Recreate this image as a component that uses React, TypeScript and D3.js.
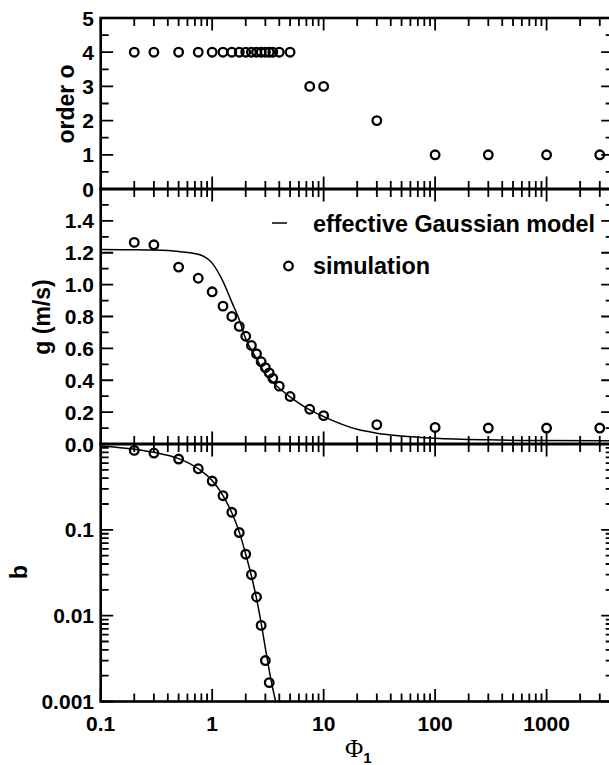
import React from 'react';
import * as d3 from 'd3';

// simulation points (Phi_1)
const phiSim = [0.2, 0.3, 0.5, 0.75, 1, 1.25, 1.5, 1.75, 2, 2.25, 2.5, 2.75, 3, 3.25, 3.5, 4, 5, 7.5, 10, 30, 100, 300, 1000, 3000];
const orderSim = [4, 4, 4, 4, 4, 4, 4, 4, 4, 4, 4, 4, 4, 4, 4, 4, 4, 3, 3, 2, 1, 1, 1, 1];
const gSim = [1.265, 1.25, 1.11, 1.04, 0.955, 0.865, 0.8, 0.738, 0.676, 0.618, 0.566, 0.516, 0.479, 0.446, 0.412, 0.363, 0.298, 0.218, 0.178, 0.121, 0.104, 0.1, 0.1, 0.1];

const phiB = [0.2, 0.3, 0.5, 0.75, 1, 1.25, 1.5, 1.75, 2, 2.25, 2.5, 2.75, 3, 3.25];
const bSim = [0.842, 0.785, 0.668, 0.515, 0.37, 0.25, 0.16, 0.093, 0.052, 0.03, 0.0165, 0.0077, 0.003, 0.00166];

// effective Gaussian model curves
const phiModelG = [0.1, 0.2, 0.3, 0.5, 0.75, 1, 1.25, 1.5, 1.75, 2, 2.5, 3, 4, 5, 7.5, 10, 20, 30, 50, 100, 300, 1000, 4000];
const gModel = [1.22, 1.219, 1.217, 1.208, 1.19, 1.135, 1.02, 0.89, 0.78, 0.66, 0.535, 0.44, 0.35, 0.296, 0.214, 0.172, 0.092, 0.068, 0.05, 0.036, 0.026, 0.022, 0.02];

const phiModelB = [0.1, 0.2, 0.3, 0.5, 0.75, 1, 1.25, 1.5, 1.75, 2, 2.25, 2.5, 2.75, 3, 3.25, 3.5, 3.75];
const bModel = [0.95, 0.87, 0.8, 0.675, 0.515, 0.375, 0.25, 0.158, 0.094, 0.052, 0.029, 0.0158, 0.0082, 0.0042, 0.0023, 0.0014, 0.00095];

const xTickLabels = ['0.1', '1', '10', '100', '1000'];
const orderTickLabels = ['0', '1', '2', '3', '4', '5'];
const gTickLabels = ['0.0', '0.2', '0.4', '0.6', '0.8', '1.0', '1.2', '1.4'];
const bTickLabels = ['0.001', '0.01', '0.1'];

const W = 609;
const H = 765;
const LEFT = 100.7;
const RIGHT = 613.7;
const MAJ = 12.5;
const MIN = 8;
const SANS = '"Liberation Sans", Arial, Helvetica, sans-serif';

const x = d3.scaleLog().domain([0.1, 4000]).range([LEFT, RIGHT]);
const yOrder = d3.scaleLinear().domain([0, 5]).range([189, 18]);
const yG = d3.scaleLinear().domain([0, 1.6]).range([444, 189]);
const yB = d3.scaleLog().domain([0.001, 1]).range([701.5, 444]);

const isDecade = (v) => Math.abs(Math.log10(v) - Math.round(Math.log10(v))) < 1e-6;

function frameTicks(y, yTicks) {
  const [bot, top] = y.range();
  let d = '';
  x.ticks().forEach(v => {
    const len = isDecade(v) ? MAJ : MIN;
    const px = x(v);
    d += `M${px},${top}v${len}M${px},${bot}v${-len}`;
  });
  yTicks.forEach(([v, major]) => {
    const len = major ? MAJ : MIN;
    const py = y(v);
    d += `M${LEFT},${py}h${len}M${RIGHT},${py}h${-len}`;
  });
  return d;
}

export default function App() {
  const orderTicks = d3.range(0, 11).map(i => [i / 2, i % 2 === 0]);
  const gTicks = d3.range(0, 17).map(i => [i / 10, i % 2 === 0]);
  const bTicks = yB.ticks().map(v => [v, isDecade(v)]);

  const panels = [
    { id: 'p1', y: yOrder, ticks: orderTicks },
    { id: 'p2', y: yG, ticks: gTicks },
    { id: 'p3', y: yB, ticks: bTicks },
  ];

  const lineG = d3.line().x(d => x(d[0])).y(d => yG(d[1])).curve(d3.curveMonotoneX);
  const lineB = d3.line().x(d => x(d[0])).y(d => yB(d[1])).curve(d3.curveMonotoneX);

  const circ = (cx, cy, key) => (
    <circle key={key} cx={cx} cy={cy} r={4.3} fill="none" stroke="#000" strokeWidth={2.3} />
  );

  return (
    <svg width={W} height={H} style={{ position: 'absolute', left: 0, top: 0, background: '#fff' }}>
      <defs>
        {panels.map(p => (
          <clipPath id={'clip-' + p.id} key={p.id}>
            <rect x={LEFT} y={p.y.range()[1]} width={RIGHT - LEFT} height={p.y.range()[0] - p.y.range()[1]} />
          </clipPath>
        ))}
      </defs>

      {/* ticks and frames */}
      {panels.map(p => (
        <g key={p.id}>
          <path d={frameTicks(p.y, p.ticks)} stroke="#000" strokeWidth={1.8} fill="none" />
          <rect x={LEFT} y={p.y.range()[1]} width={RIGHT - LEFT} height={p.y.range()[0] - p.y.range()[1]}
            fill="none" stroke="#000" strokeWidth={2.6} />
        </g>
      ))}

      {/* model curves */}
      <path d={lineG(phiModelG.map((v, i) => [v, gModel[i]]))} fill="none" stroke="#000" strokeWidth={1.5} clipPath="url(#clip-p2)" />
      <path d={lineB(phiModelB.map((v, i) => [v, bModel[i]]))} fill="none" stroke="#000" strokeWidth={1.5} clipPath="url(#clip-p3)" />

      {/* simulation points */}
      {phiSim.map((v, i) => circ(x(v), yOrder(orderSim[i]), 'o' + i))}
      {phiSim.map((v, i) => circ(x(v), yG(gSim[i]), 'g' + i))}
      {phiB.map((v, i) => circ(x(v), yB(bSim[i]), 'b' + i))}

      {/* tick labels */}
      <g fontFamily={SANS} fontWeight="bold" fontSize={21} fill="#000">
        {xTickLabels.map(t => (
          <text key={t} x={x(+t)} y={731} textAnchor="middle">{t}</text>
        ))}
        {orderTickLabels.map(t => (
          <text key={'o' + t} x={94} y={yOrder(+t) + 7.5} textAnchor="end">{t}</text>
        ))}
        {gTickLabels.map(t => (
          <text key={'g' + t} x={94} y={yG(+t) + 7.5} textAnchor="end">{t}</text>
        ))}
        {bTickLabels.map(t => (
          <text key={'b' + t} x={94} y={yB(+t) + 7.5} textAnchor="end">{t}</text>
        ))}
      </g>

      {/* axis titles */}
      <g fontFamily={SANS} fontWeight="bold" fontSize={23} fill="#000">
        <text transform="translate(74,104) rotate(-90)" textAnchor="middle">order o</text>
        <text transform="translate(50,317) rotate(-90)" textAnchor="middle">g (m/s)</text>
        <text transform="translate(27,572) rotate(-90)" textAnchor="middle">b</text>
      </g>
      <text x={345} y={757} fontFamily='"Liberation Serif", "Times New Roman", serif' fontSize={25} fill="#000">
        Φ
        <tspan fontFamily={SANS} fontWeight="bold" fontSize={15} dy={6}>1</tspan>
      </text>

      {/* legend */}
      <g fontFamily={SANS} fontWeight="bold" fontSize={23.4} fill="#000">
        <line x1={272} x2={287} y1={223} y2={223} stroke="#000" strokeWidth={1.5} />
        <text x={313} y={232}>effective Gaussian model</text>
        {circ(288.5, 266, 'leg')}
        <text x={313} y={274}>simulation</text>
      </g>
    </svg>
  );
}
